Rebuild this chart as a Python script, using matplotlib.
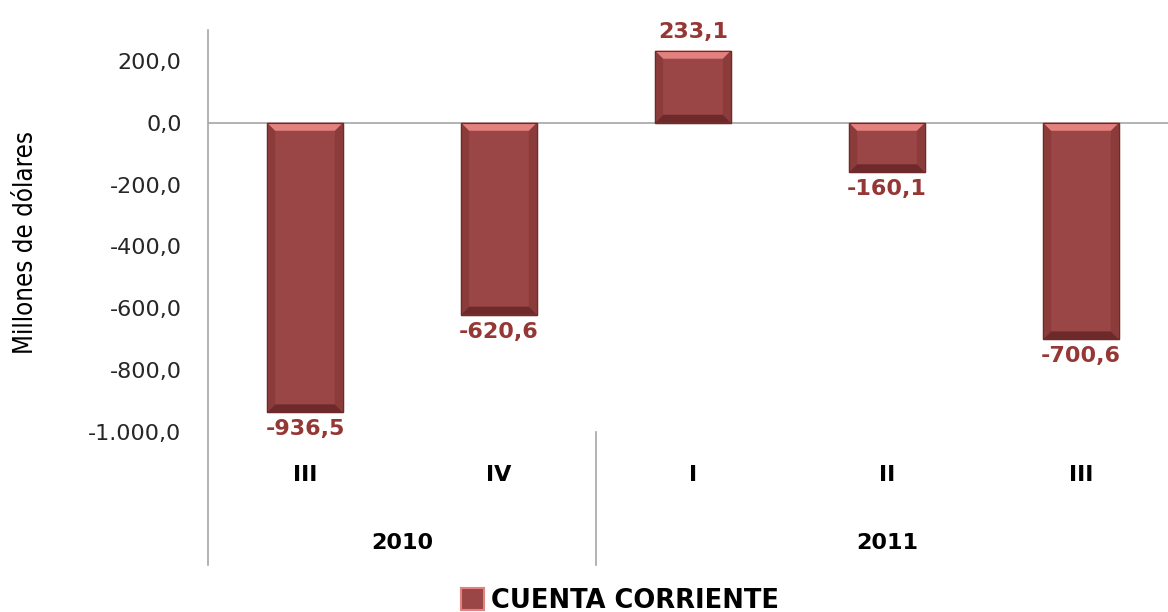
import matplotlib.pyplot as plt
import matplotlib.patches as patches
import matplotlib.transforms as mtransforms
from matplotlib.ticker import FuncFormatter

# data
quarters = ["III", "IV", "I", "II", "III"]
years = ["2010", "2011"]
quarters_per_year = [2, 3]
values = [-936.5, -620.6, 233.1, -160.1, -700.6]
series_name = "CUENTA CORRIENTE"

face = "#9a4646"
light = "#e3817f"
dark = "#6e2a2a"
side = "#8a3b3a"
label_red = "#953735"
axis_gray = "#a6a6a6"

W, H = 1168, 612
fig = plt.figure(figsize=(W / 100, H / 100), dpi=100)
ax = fig.add_axes([208 / W, 1 - 432 / H, 970 / W, 402 / H])

ax.set_xlim(-0.5, len(values) - 0.5)
ax.set_ylim(-1000, 300)

bar_w = 0.39
bars = ax.bar(range(len(values)), values, width=bar_w, color=face,
              edgecolor=dark, linewidth=1.0, zorder=3)

# bevel look: light top strip, darker bottom and sides
bx = 8 / 194            # bevel width in data x
by = 8 * 1300 / 402     # bevel height in data y
for b in bars:
    x0 = b.get_x()
    x1 = x0 + b.get_width()
    y_top = max(b.get_y(), b.get_y() + b.get_height())
    y_bot = min(b.get_y(), b.get_y() + b.get_height())
    top = [(x0, y_top), (x1, y_top), (x1 - bx, y_top - by), (x0 + bx, y_top - by)]
    bot = [(x0, y_bot), (x1, y_bot), (x1 - bx, y_bot + by), (x0 + bx, y_bot + by)]
    left = [(x0, y_top), (x0 + bx, y_top - by), (x0 + bx, y_bot + by), (x0, y_bot)]
    right = [(x1, y_top), (x1 - bx, y_top - by), (x1 - bx, y_bot + by), (x1, y_bot)]
    for pts, c in [(left, side), (right, side), (bot, dark), (top, light)]:
        ax.add_patch(patches.Polygon(pts, closed=True, facecolor=c,
                                     edgecolor="none", zorder=4))
    ax.add_patch(patches.Rectangle((x0, y_bot), b.get_width(), y_top - y_bot,
                                   facecolor="none", edgecolor=dark,
                                   linewidth=0.8, zorder=5))

# value labels
for i, v in enumerate(values):
    txt = f"{v:.1f}".replace(".", ",")
    if v >= 0:
        ax.annotate(txt, (i, v), xytext=(0, 6), textcoords="offset points",
                    ha="center", va="bottom", fontsize=16, fontweight="bold",
                    color=label_red, zorder=6, annotation_clip=False)
    else:
        ax.annotate(txt, (i, v), xytext=(0, -5), textcoords="offset points",
                    ha="center", va="top", fontsize=16, fontweight="bold",
                    color=label_red, zorder=6, annotation_clip=False)

ax.axhline(0, color=axis_gray, linewidth=1.2, zorder=2)

for s in ["top", "right", "bottom", "left"]:
    ax.spines[s].set_visible(False)

ax.set_yticks(range(-1000, 201, 200))
ax.yaxis.set_major_formatter(FuncFormatter(
    lambda v, p: f"{v:,.1f}".replace(",", "X").replace(".", ",").replace("X", ".")))
ax.tick_params(axis="y", length=0, pad=19, labelsize=16, labelcolor="#262626")
ax.set_xticks([])

# axis line down through the category area
trans = mtransforms.blended_transform_factory(ax.transData, ax.transAxes)
low = -133 / 402
ax.plot([-0.5, -0.5], [low, 1.0], transform=trans, color=axis_gray,
        linewidth=1.2, clip_on=False)

# multi-level category labels
for i, q in enumerate(quarters):
    ax.text(i, -43 / 402, q, transform=trans, ha="center", va="center",
            fontsize=16, fontweight="bold")
start = 0
for yr, n in zip(years, quarters_per_year):
    ax.text(start + (n - 1) / 2, -111 / 402, yr, transform=trans,
            ha="center", va="center", fontsize=16, fontweight="bold")
    start += n
    if start < len(values):
        ax.plot([start - 0.5, start - 0.5], [low, 0], transform=trans,
                color=axis_gray, linewidth=1.2, clip_on=False)

fig.text(26 / W, 1 - 243 / H, "Millones de dólares", rotation=90,
         ha="center", va="center", fontsize=18.5, fontstretch="condensed")

handle = patches.Patch(facecolor=face, edgecolor=light, linewidth=1.5)
fig.legend([handle], [series_name], loc="center", bbox_to_anchor=(620 / W, 1 - 601 / H),
           frameon=False, prop={"size": 18.5, "weight": "bold"},
           handlelength=0.9, handleheight=0.9, handletextpad=0.3)

fig.savefig("out.png", dpi=100)
